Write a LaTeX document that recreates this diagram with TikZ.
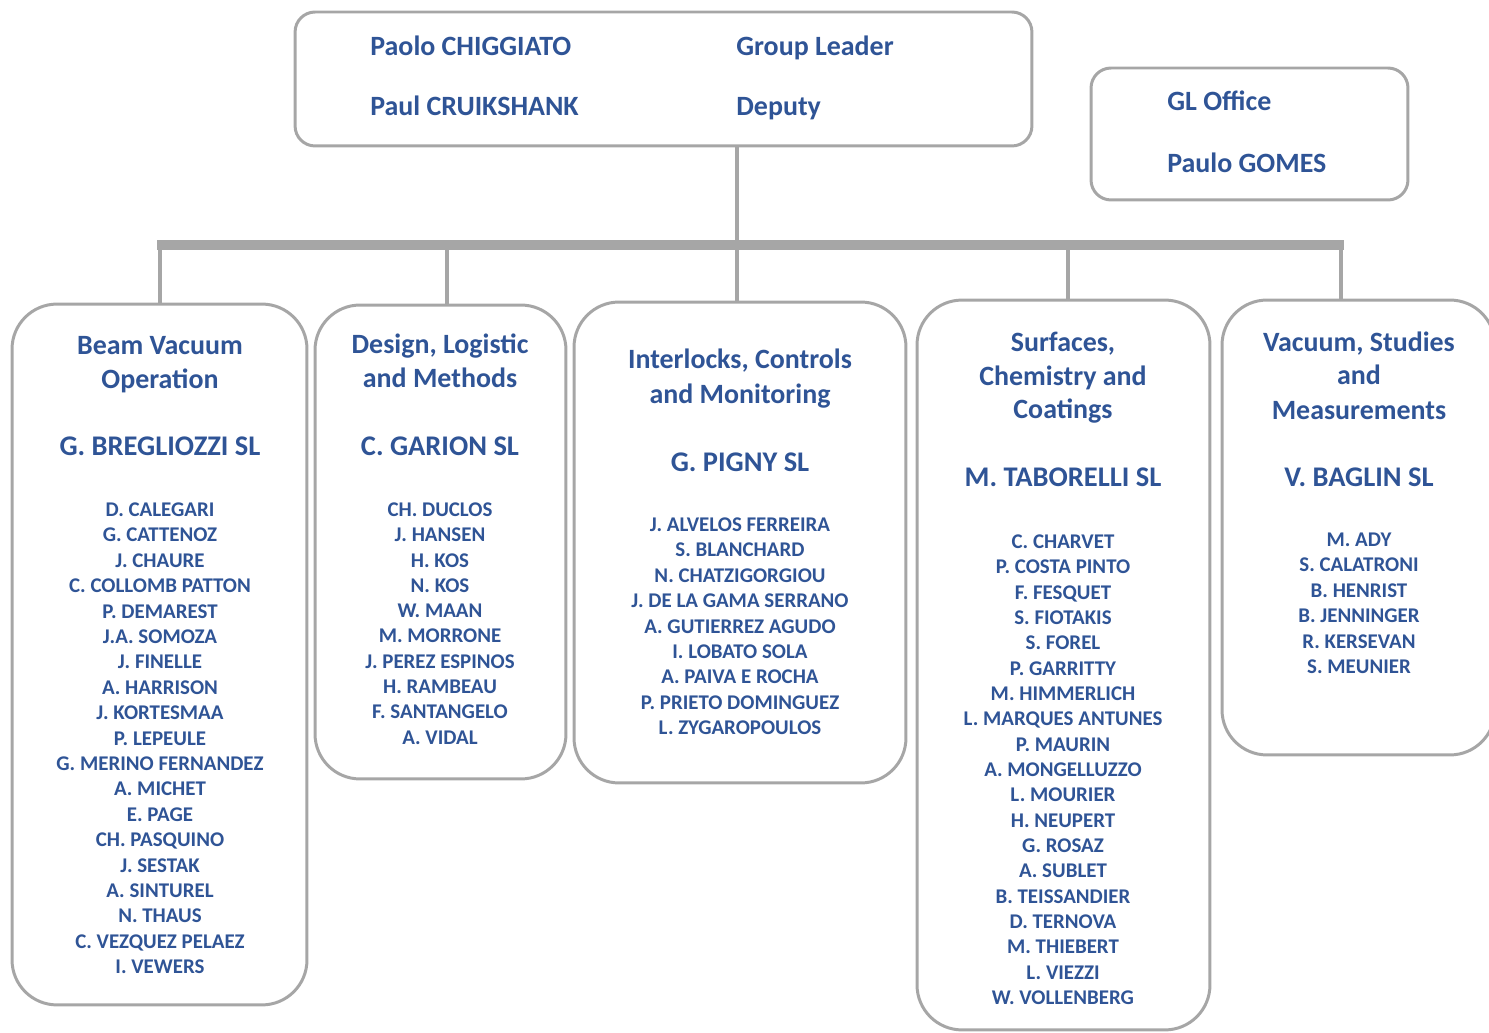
\documentclass[tikz,border=0pt]{standalone}
\usepackage{fontspec}
\setmainfont{Carlito}
\definecolor{orgblue}{HTML}{2F5496}
\definecolor{orggray}{HTML}{A6A6A6}

\begin{document}
\begin{tikzpicture}[x=0.02cm,y=-0.02cm]
			\tikzset{
				unit/.style={draw=orggray, line width=1.7pt, fill=white, inner sep=0pt, outer sep=0pt, rounded corners=0.9cm},
				headbox/.style={unit, rounded corners=0.4cm},
				txt/.style={text=orgblue, inner sep=0pt, anchor=base, font=\bfseries\fontsize{15.9}{18}\selectfont},
				lead/.style={txt, font=\bfseries\fontsize{16.2}{18}\selectfont},
				member/.style={txt, font=\bfseries\fontsize{11.9}{13}\selectfont},
				link/.style={draw=orggray, line width=2.8pt},
				bus/.style={draw=orggray, line width=5.7pt}
			}
			\useasboundingbox (0,0) rectangle (1489,1033);
			\clip (0,0) rectangle (1489,1033);
			% top boxes
			\node [headbox, minimum width=14.74cm, minimum height=2.68cm] (top) at (663.5,79) {};
			\node [headbox, minimum width=6.34cm, minimum height=2.64cm] (gl) at (1249.5,134) {};
			\node [txt, anchor=base west] (gln) at (370,56) {Paolo CHIGGIATO};
			\node [txt, anchor=base west] (glr) at (736,56) {Group Leader};
			\node [txt, anchor=base west] (depn) at (370,116) {Paul CRUIKSHANK};
			\node [txt, anchor=base west] (depr) at (736,116) {Deputy};
			\node [txt, anchor=base west] (glo) at (1167,111) {GL Office};
			\node [txt, anchor=base west] (glon) at (1167,173) {Paulo GOMES};
			% sections
			\node [unit, minimum width=5.9cm, minimum height=14.02cm] (bvo) at (159.5,654.5) {};
			\node [unit, minimum width=5.02cm, minimum height=9.48cm] (dlm) at (440.5,542) {};
			\node [unit, minimum width=6.64cm, minimum height=9.62cm] (icm) at (740,542.5) {};
			\node [unit, minimum width=5.86cm, minimum height=14.6cm] (scc) at (1063.5,665) {};
			\node [unit, minimum width=5.46cm, minimum height=9.1cm] (vsm) at (1358.5,527.5) {};
			% tree
			\coordinate (hub) at (737,245);
			\draw [link] (top.south -| hub) -- (hub);
			\foreach \b/\x in {bvo/160,dlm/447,icm/737,scc/1068,vsm/1341} {
				\coordinate (d\b) at (\x,245);
				\draw [link] (d\b) -- (d\b |- \b.north);
			}
			\draw [bus, shorten <=-0.06cm, shorten >=-0.06cm] (dbvo) -- (dvsm);
			% Beam Vacuum Operation
			\node [txt] (bvot1) at (160,355) {Beam Vacuum};
			\node [txt] (bvot2) at (160,389) {Operation};
			\node [lead] (bvol) at (160,456) {G. BREGLIOZZI SL};
			\foreach \n [count=\i from 0] in {D. CALEGARI, G. CATTENOZ, J. CHAURE, C. COLLOMB PATTON, P. DEMAREST, J.A. SOMOZA, J. FINELLE, A. HARRISON, J. KORTESMAA, P. LEPEULE, G. MERINO FERNANDEZ, A. MICHET, E. PAGE, CH. PASQUINO, J. SESTAK, A. SINTUREL, N. THAUS, C. VEZQUEZ PELAEZ, I. VEWERS}
				\node [member] (bvom\i) at (160,516.5+25.4*\i) {\n};
			% Design, Logistic and Methods
			\node [txt] (dlmt1) at (440,354) {Design, Logistic};
			\node [txt] (dlmt2) at (440,388) {and Methods};
			\node [lead] (dlml) at (440,456) {C. GARION SL};
			\foreach \n [count=\i from 0] in {CH. DUCLOS, J. HANSEN, H. KOS, N. KOS, W. MAAN, M. MORRONE, J. PEREZ ESPINOS, H. RAMBEAU, F. SANTANGELO, A. VIDAL}
				\node [member] (dlmm\i) at (440,516.5+25.3*\i) {\n};
			% Interlocks, Controls and Monitoring
			\node [txt] (icmt1) at (740,369) {Interlocks, Controls};
			\node [txt] (icmt2) at (740,404) {and Monitoring};
			\node [lead] (icml) at (740,472) {G. PIGNY SL};
			\foreach \n [count=\i from 0] in {J. ALVELOS FERREIRA, S. BLANCHARD, N. CHATZIGORGIOU, J. DE LA GAMA SERRANO, A. GUTIERREZ AGUDO, I. LOBATO SOLA, A. PAIVA E ROCHA, P. PRIETO DOMINGUEZ, L. ZYGAROPOULOS}
				\node [member] (icmm\i) at (740,531.5+25.4*\i) {\n};
			% Surfaces, Chemistry and Coatings
			\node [txt] (scct1) at (1063,352) {Surfaces,};
			\node [txt] (scct2) at (1063,386) {Chemistry and};
			\node [txt] (scct3) at (1063,419) {Coatings};
			\node [lead] (sccl) at (1063,487) {M. TABORELLI SL};
			\foreach \n [count=\i from 0] in {C. CHARVET, P. COSTA PINTO, F. FESQUET, S. FIOTAKIS, S. FOREL, P. GARRITTY, M. HIMMERLICH, L. MARQUES ANTUNES, P. MAURIN, A. MONGELLUZZO, L. MOURIER, H. NEUPERT, G. ROSAZ, A. SUBLET, B. TEISSANDIER, D. TERNOVA, M. THIEBERT, L. VIEZZI, W. VOLLENBERG}
				\node [member] (sccm\i) at (1063,548.5+25.33*\i) {\n};
			% Vacuum, Studies and Measurements
			\node [txt] (vsmt1) at (1359,352) {Vacuum, Studies};
			\node [txt] (vsmt2) at (1359,385) {and};
			\node [txt] (vsmt3) at (1359,420) {Measurements};
			\node [lead] (vsml) at (1359,487) {V. BAGLIN SL};
			\foreach \n [count=\i from 0] in {M. ADY, S. CALATRONI, B. HENRIST, B. JENNINGER, R. KERSEVAN, S. MEUNIER}
				\node [member] (vsmm\i) at (1359,546.5+25.4*\i) {\n};
		\end{tikzpicture}
\end{document}
